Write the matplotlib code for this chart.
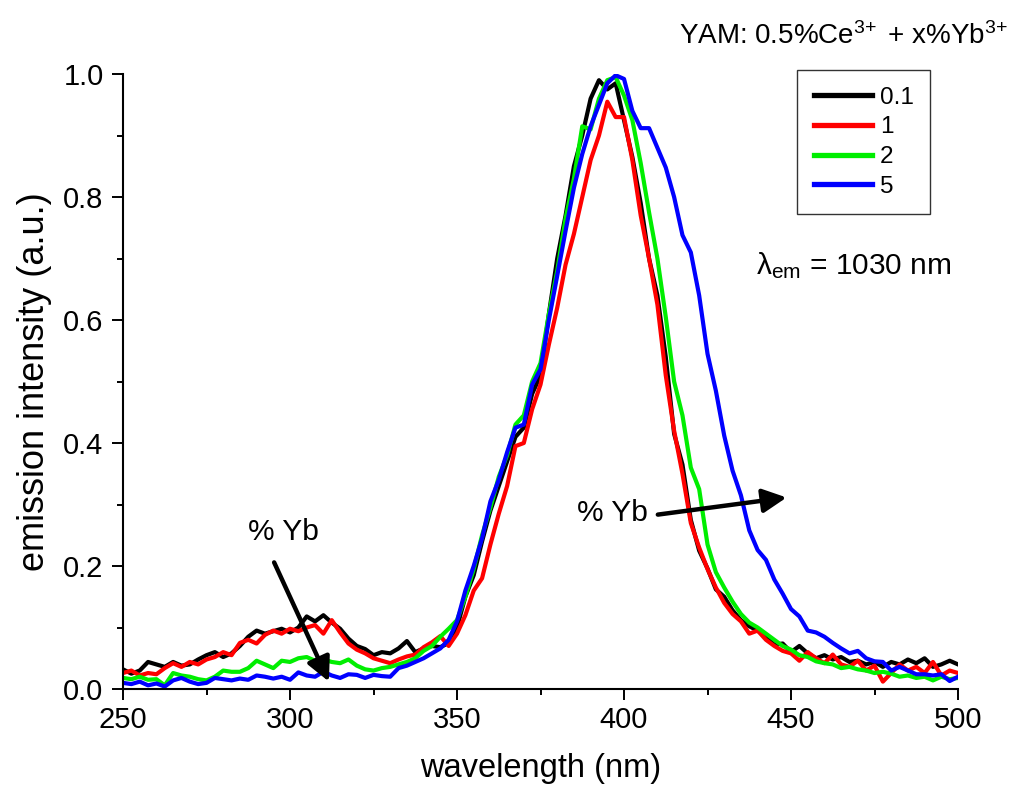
import matplotlib
matplotlib.use("Agg")
import matplotlib.pyplot as plt
import numpy as np
from matplotlib.ticker import MultipleLocator

plt.rcParams['font.family'] = ['Liberation Sans', 'DejaVu Sans']
plt.rcParams['mathtext.fontset'] = 'custom'
plt.rcParams['mathtext.rm'] = 'Liberation Sans'
plt.rcParams['mathtext.it'] = 'Liberation Sans:italic'
plt.rcParams['mathtext.sf'] = 'Liberation Sans'

# sampling grid (nm)
wavelength = np.linspace(250, 500, 101)

# emission spectra (2.5 nm step)
yb_01 = [0.032, 0.025, 0.030, 0.044, 0.040, 0.036, 0.044, 0.038, 0.040, 0.048,
         0.055, 0.060, 0.052, 0.058, 0.070, 0.085, 0.095, 0.090, 0.094, 0.098,
         0.092, 0.100, 0.118, 0.110, 0.120, 0.108, 0.098, 0.082, 0.070, 0.065,
         0.055, 0.060, 0.058, 0.066, 0.078, 0.060, 0.066, 0.070, 0.068, 0.075,
         0.100, 0.150, 0.185, 0.240, 0.290, 0.330, 0.370, 0.410, 0.425, 0.480,
         0.510, 0.610, 0.700, 0.770, 0.850, 0.900, 0.960, 0.990, 0.975, 0.985,
         0.925, 0.865, 0.790, 0.700, 0.640, 0.540, 0.415, 0.365, 0.275, 0.225,
         0.196, 0.162, 0.150, 0.128, 0.112, 0.102, 0.095, 0.085, 0.072, 0.074,
         0.060, 0.070, 0.058, 0.050, 0.055, 0.048, 0.052, 0.044, 0.046, 0.040,
         0.044, 0.036, 0.044, 0.040, 0.048, 0.042, 0.050, 0.036, 0.040, 0.046,
         0.040]

yb_1 = [0.026, 0.030, 0.022, 0.026, 0.024, 0.034, 0.042, 0.036, 0.044, 0.040,
        0.048, 0.052, 0.060, 0.055, 0.075, 0.080, 0.074, 0.088, 0.095, 0.090,
        0.098, 0.094, 0.100, 0.104, 0.090, 0.112, 0.092, 0.074, 0.064, 0.058,
        0.050, 0.046, 0.042, 0.048, 0.053, 0.056, 0.068, 0.076, 0.086, 0.070,
        0.090, 0.120, 0.160, 0.180, 0.235, 0.285, 0.330, 0.395, 0.400, 0.455,
        0.495, 0.560, 0.620, 0.690, 0.740, 0.800, 0.860, 0.900, 0.955, 0.930,
        0.930, 0.860, 0.770, 0.700, 0.625, 0.510, 0.420, 0.350, 0.270, 0.230,
        0.195, 0.165, 0.140, 0.122, 0.110, 0.090, 0.095, 0.080, 0.070, 0.062,
        0.058, 0.046, 0.060, 0.050, 0.042, 0.056, 0.040, 0.036, 0.046, 0.030,
        0.038, 0.012, 0.026, 0.040, 0.030, 0.036, 0.026, 0.044, 0.022, 0.030,
        0.026]

yb_2 = [0.018, 0.016, 0.020, 0.015, 0.016, 0.006, 0.026, 0.022, 0.020, 0.016,
        0.014, 0.020, 0.030, 0.028, 0.028, 0.034, 0.046, 0.040, 0.034, 0.046,
        0.044, 0.050, 0.052, 0.046, 0.048, 0.044, 0.042, 0.048, 0.038, 0.032,
        0.030, 0.034, 0.036, 0.040, 0.044, 0.050, 0.062, 0.070, 0.085, 0.098,
        0.112, 0.150, 0.195, 0.250, 0.295, 0.345, 0.380, 0.430, 0.445, 0.500,
        0.530, 0.610, 0.680, 0.765, 0.830, 0.915, 0.910, 0.960, 0.990, 0.995,
        0.965, 0.925, 0.855, 0.775, 0.700, 0.605, 0.500, 0.445, 0.360, 0.325,
        0.235, 0.190, 0.165, 0.142, 0.122, 0.108, 0.100, 0.090, 0.080, 0.070,
        0.064, 0.055, 0.052, 0.045, 0.042, 0.040, 0.034, 0.036, 0.032, 0.030,
        0.026, 0.028, 0.025, 0.020, 0.022, 0.018, 0.020, 0.014, 0.020, 0.016,
        0.018]

yb_5 = [0.010, 0.008, 0.012, 0.006, 0.009, 0.004, 0.014, 0.018, 0.012, 0.008,
        0.010, 0.018, 0.016, 0.014, 0.017, 0.015, 0.022, 0.020, 0.017, 0.020,
        0.015, 0.027, 0.022, 0.020, 0.028, 0.022, 0.018, 0.024, 0.023, 0.018,
        0.023, 0.021, 0.020, 0.034, 0.038, 0.044, 0.050, 0.058, 0.066, 0.080,
        0.110, 0.160, 0.200, 0.245, 0.305, 0.340, 0.385, 0.425, 0.430, 0.495,
        0.520, 0.600, 0.672, 0.745, 0.815, 0.870, 0.915, 0.950, 0.985, 0.998,
        0.992, 0.940, 0.912, 0.912, 0.880, 0.848, 0.800, 0.738, 0.710, 0.640,
        0.545, 0.485, 0.412, 0.355, 0.315, 0.258, 0.226, 0.210, 0.178, 0.155,
        0.130, 0.118, 0.095, 0.092, 0.085, 0.075, 0.066, 0.058, 0.062, 0.050,
        0.045, 0.044, 0.030, 0.036, 0.030, 0.024, 0.024, 0.022, 0.024, 0.013,
        0.020]

labels = ["0.1", "1", "2", "5"]
colors = ["#000000", "#ff0000", "#00ee00", "#0000ff"]
series = [yb_01, yb_1, yb_2, yb_5]

fig = plt.figure(figsize=(10.14, 7.96), dpi=100)
ax = fig.add_axes([0.1213, 0.1344, 0.8235, 0.7726])

for y, c, lab in zip(series, colors, labels):
    ax.plot(wavelength, y, color=c, lw=3.0, label=lab)

ax.set_xlim(250, 500)
ax.set_ylim(0, 1.0)
ax.xaxis.set_major_locator(MultipleLocator(50))
ax.xaxis.set_minor_locator(MultipleLocator(25))
ax.yaxis.set_major_locator(MultipleLocator(0.2))
ax.yaxis.set_minor_locator(MultipleLocator(0.1))
ax.yaxis.set_major_formatter(plt.FuncFormatter(lambda v, p: f"{v:.1f}"))
ax.tick_params(which='major', direction='out', length=8, width=1.4, labelsize=21, pad=4)
ax.tick_params(axis='y', which='major', pad=6)
ax.tick_params(which='minor', direction='out', length=4.5, width=1.4)
ax.spines['top'].set_visible(False)
ax.spines['right'].set_visible(False)
ax.spines['left'].set_linewidth(1.5)
ax.spines['bottom'].set_linewidth(1.5)

ax.set_xlabel("wavelength (nm)", fontsize=23.5, labelpad=14)
ax.set_ylabel("emission intensity (a.u.)", fontsize=26, labelpad=8)

leg = ax.legend(loc='upper right', bbox_to_anchor=(0.9665, 1.0065), fontsize=17.5,
                frameon=True, fancybox=False, handlelength=2.4, handletextpad=0.3,
                borderpad=0.68, labelspacing=0.32, borderaxespad=0.0)
leg.get_frame().set_edgecolor('black')
leg.get_frame().set_linewidth(1.0)
for h in leg.get_lines():
    h.set_linewidth(3.8)

fig.text(0.995, 0.945, r"YAM: 0.5%Ce$^{3\!+}$ + x%Yb$^{3\!+}$", ha='right', va='baseline',
         fontsize=20)
ax.text(439.5, 0.675, r"$\mathrm{\lambda}_{\mathrm{em}}$ = 1030 nm", fontsize=21.5, ha='left',
        va='baseline')

# "% Yb" arrows
ax.text(298, 0.255, "% Yb", fontsize=21.5, ha='center', va='center')
ax.annotate("", xy=(312.0, 0.008), xytext=(294.9, 0.21),
            arrowprops=dict(arrowstyle='-|>', lw=3.2, color='black', mutation_scale=36))
ax.text(396.5, 0.286, "% Yb", fontsize=21.5, ha='center', va='center')
ax.annotate("", xy=(449.5, 0.312), xytext=(409.3, 0.283),
            arrowprops=dict(arrowstyle='-|>', lw=3.2, color='black', mutation_scale=36))

fig.savefig("out.png", dpi=100)
